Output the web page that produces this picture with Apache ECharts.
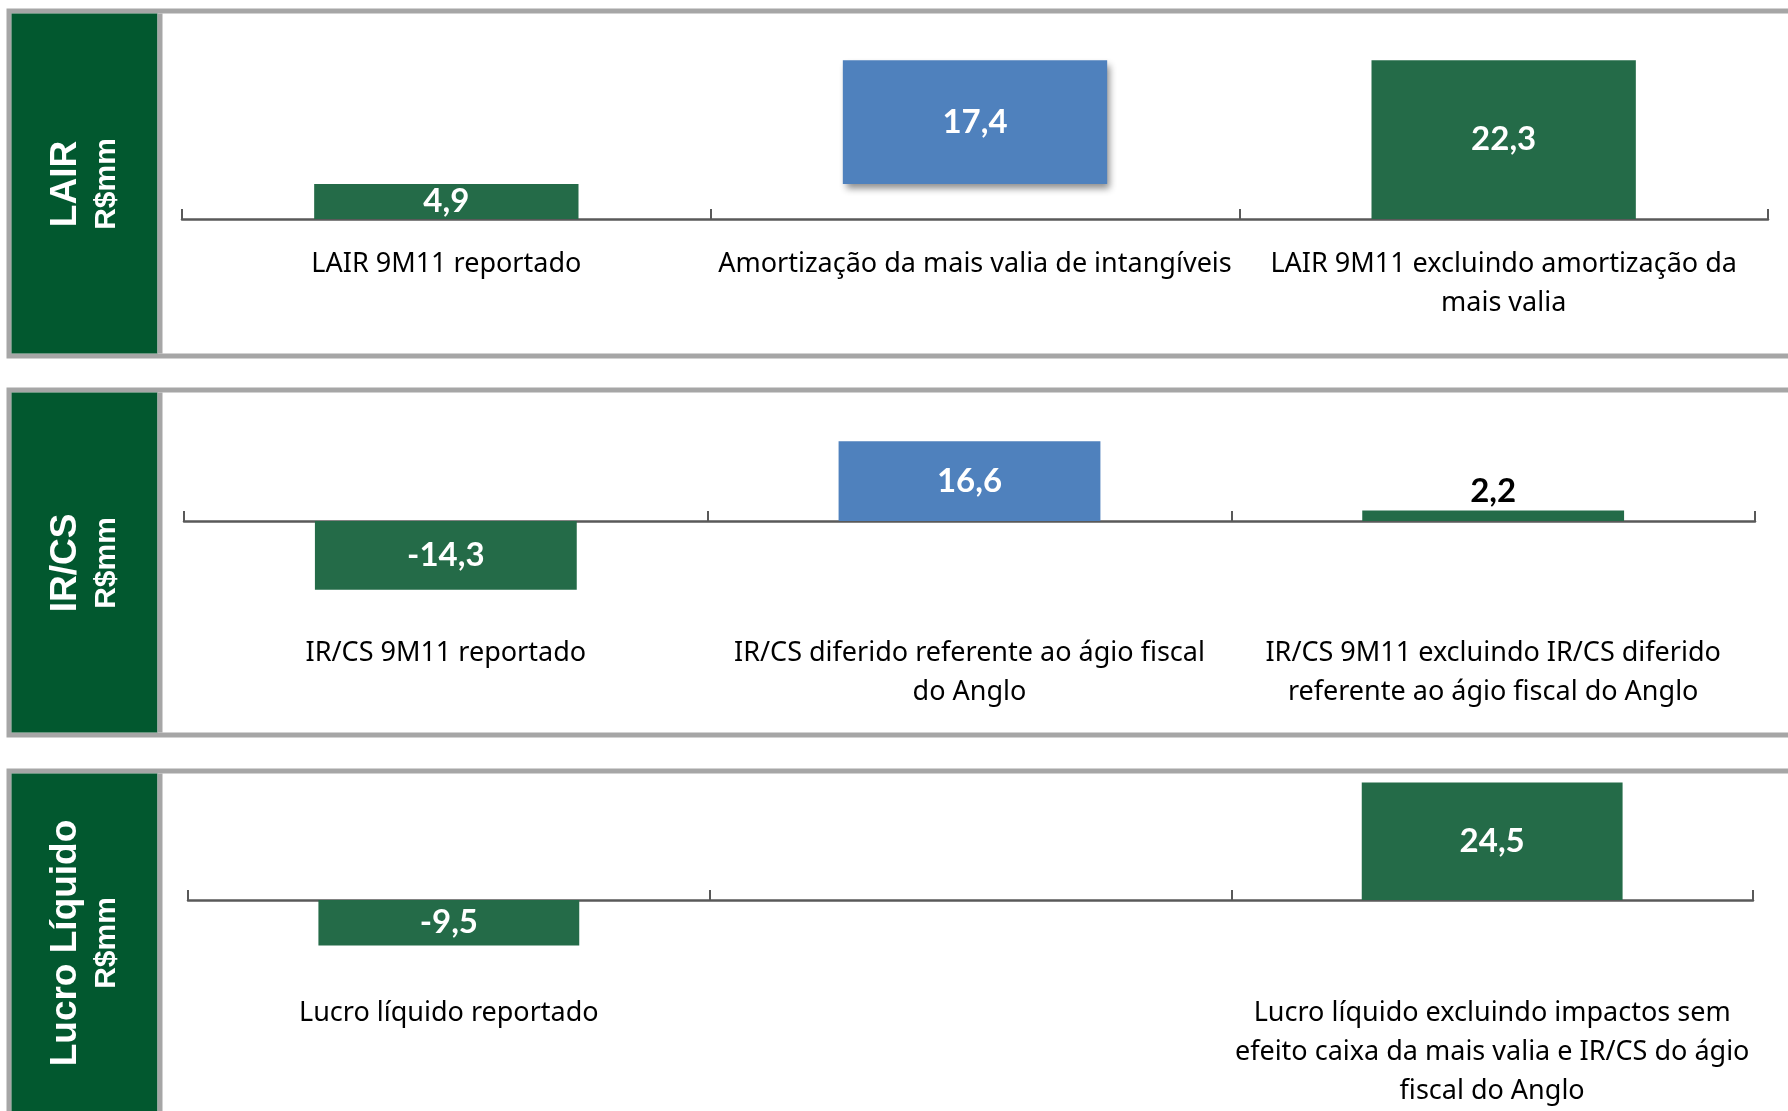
<!DOCTYPE html>
<html>
<head>
<meta charset="utf-8">
<title>LAIR, IR/CS e Lucro Líquido 9M11</title>
<script src="https://cdn.jsdelivr.net/npm/echarts@6/dist/echarts.min.js"></script>
<style>
  html, body { margin: 0; padding: 0; background: #ffffff; }
  #chart { width: 1788px; height: 1111px; }
</style>
</head>
<body>
<div id="chart"></div>
<script>
// data (R$ mm)
const lairCategories = ['LAIR 9M11 reportado', 'Amortização da mais valia de intangíveis', 'LAIR 9M11 excluindo amortização da\nmais valia']
const lairValues = [4.9, 17.4, 22.3]
const lairBase = [0, 4.9, 0]

const ircsCategories = ['IR/CS 9M11 reportado', 'IR/CS diferido referente ao ágio fiscal\ndo Anglo', 'IR/CS 9M11 excluindo IR/CS diferido\nreferente ao ágio fiscal do Anglo']
const ircsValues = [-14.3, 16.6, 2.2]
const ircsBase = [0, 0, 0]

const lucroCategories = ['Lucro líquido reportado', '', 'Lucro líquido excluindo impactos sem\nefeito caixa da mais valia e IR/CS do ágio\nfiscal do Anglo']
const lucroValues = [-9.5, null, 24.5]
const lucroBase = [0, 0, 0]

const panelTitles = ['LAIR', 'IR/CS', 'Lucro Líquido']
const unitTitle = 'R$mm'

const GREEN = '#246b48'
const BLUE = '#4f81bd'
const DARK_GREEN = '#02582f'
const BORDER = '#a6a6a6'
const AXIS = '#595959'

// layout of the three panels (labels are measured from the grid bottom)
const panels = [
  { categories: lairCategories, values: lairValues, base: lairBase, min: 0, max: 25, top: 41, height: 178, left: 182, right: 20, labelMargin: 26, frameY: 11, titleY: 184, shadow: true },
  { categories: ircsCategories, values: ircsValues, base: ircsBase, min: -20, max: 20, top: 425, height: 192, left: 184, right: 33, labelMargin: 17, frameY: 390, titleY: 563, shadow: false },
  { categories: lucroCategories, values: lucroValues, base: lucroBase, min: -10, max: 25, top: 780, height: 168, left: 188, right: 35, labelMargin: 46, frameY: 771, titleY: 943, shadow: false }
]

function formatValue(v) {
  return v.toFixed(1).replace('.', ',')
}

const grid = []
const xAxis = []
const yAxis = []
const series = []
const graphic = []

panels.forEach((p, i) => {
  grid.push({ left: p.left, right: p.right, top: p.top, height: p.height, containLabel: false, outerBoundsMode: 'none' })
  xAxis.push({
    type: 'category',
    gridIndex: i,
    data: p.categories,
    axisLine: { onZero: true, lineStyle: { color: AXIS, width: 2.5 } },
    axisTick: { show: true, inside: true, length: 10, interval: 0, lineStyle: { color: AXIS, width: 2 } },
    axisLabel: {
      interval: 0,
      margin: p.labelMargin,
      color: '#000000',
      fontFamily: 'Noto Sans',
      fontSize: 27,
      lineHeight: 39,
      align: 'center'
    }
  })
  yAxis.push({
    type: 'value',
    gridIndex: i,
    min: p.min,
    max: p.max,
    show: false,
    splitLine: { show: false }
  })
  series.push({
    type: 'bar',
    xAxisIndex: i,
    yAxisIndex: i,
    stack: 'p' + i,
    silent: true,
    barWidth: '50%',
    itemStyle: { color: 'transparent' },
    data: p.base
  })
  series.push({
    type: 'bar',
    xAxisIndex: i,
    yAxisIndex: i,
    stack: 'p' + i,
    barWidth: '50%',
    itemStyle: {
      color: params => params.dataIndex === 1 ? BLUE : GREEN
    },
    label: {
      show: true,
      position: 'inside',
      color: '#ffffff',
      fontFamily: 'Lato',
      fontWeight: 'bold',
      fontSize: 33,
      formatter: params => params.value == null ? '' : formatValue(params.value)
    },
    data: p.values.map((v, k) => {
      if (v == null) return null
      const item = { value: v }
      if (Math.abs(v) < 3) {
        item.label = { position: 'top', color: '#000000', distance: 3 }
      }
      if (p.shadow && k === 1) {
        item.itemStyle = { shadowBlur: 7, shadowOffsetX: 3, shadowOffsetY: 5, shadowColor: 'rgba(0,0,0,0.45)' }
      }
      return item
    })
  })

  // panel frame, title box and rotated titles
  graphic.push({
    type: 'rect',
    shape: { x: 9, y: p.frameY, width: 1850, height: 345 },
    style: { fill: 'none', stroke: BORDER, lineWidth: 5 }
  })
  graphic.push({
    type: 'rect',
    shape: { x: 11.5, y: p.frameY + 2.5, width: 146, height: 340 },
    style: { fill: DARK_GREEN }
  })
  graphic.push({
    type: 'rect',
    shape: { x: 157.5, y: p.frameY + 2.5, width: 5, height: 340 },
    style: { fill: BORDER }
  })
  graphic.push({
    type: 'text',
    x: 66,
    y: p.titleY,
    rotation: Math.PI / 2,
    style: {
      text: panelTitles[i],
      fill: '#ffffff',
      font: 'bold 37px "Liberation Sans", Arial, sans-serif',
      align: 'center',
      verticalAlign: 'middle',
      textAlign: 'center',
      textVerticalAlign: 'middle'
    }
  })
  graphic.push({
    type: 'text',
    x: 107,
    y: p.titleY,
    rotation: Math.PI / 2,
    style: {
      text: unitTitle,
      fill: '#ffffff',
      font: 'bold 30px "Liberation Sans", Arial, sans-serif',
      align: 'center',
      verticalAlign: 'middle',
      textAlign: 'center',
      textVerticalAlign: 'middle'
    }
  })
})

const chart = echarts.init(document.getElementById('chart'), null, { renderer: 'canvas' })
chart.setOption({
  backgroundColor: '#ffffff',
  animation: false,
  grid: grid,
  xAxis: xAxis,
  yAxis: yAxis,
  series: series,
  graphic: graphic
})
</script>
</body>
</html>
